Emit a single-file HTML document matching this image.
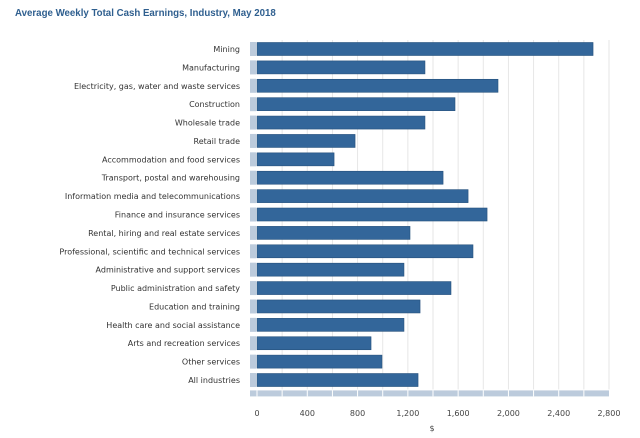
<!DOCTYPE html>
<html><head><meta charset="utf-8"><style>
body{margin:0;background:#fff;}
svg text{font-family:"DejaVu Sans",sans-serif;}
</style></head><body>
<svg id="chart" width="640" height="433" xmlns="http://www.w3.org/2000/svg">
<text x="15" y="16" font-size="9.7" font-weight="bold" fill="#2f5f8f" style="font-family:'Liberation Sans',sans-serif">Average Weekly Total Cash Earnings, Industry, May 2018</text>
<g id="grid"></g><g id="bars"></g><g id="labels"></g><g id="xaxis"></g>
<text x="432" y="431" font-size="8" fill="#444" text-anchor="middle">$</text>
</svg>
<script>
const categories=["Mining","Manufacturing","Electricity, gas, water and waste services","Construction","Wholesale trade","Retail trade","Accommodation and food services","Transport, postal and warehousing","Information media and telecommunications","Finance and insurance services","Rental, hiring and real estate services","Professional, scientific and technical services","Administrative and support services","Public administration and safety","Education and training","Health care and social assistance","Arts and recreation services","Other services","All industries"];
const values=[2673,1336,1917,1575,1336,780,613,1480,1679,1830,1217,1718,1169,1543,1297,1169,907,994,1281];
const ticks=[0,400,800,1200,1600,2000,2400,2800];
const NS="http://www.w3.org/2000/svg";
const x0=257,x1=609,xMax=2800,yTop=40,rowH=18.39;
const xs=v=>x0+(x1-x0)*v/xMax;
const ys=i=>yTop+i*rowH;
function mk(t,a,p){const e=document.createElementNS(NS,t);for(const k in a)e.setAttribute(k,a[k]);p.appendChild(e);return e;}
const grid=document.getElementById('grid'),bars=document.getElementById('bars'),labels=document.getElementById('labels'),xa=document.getElementById('xaxis');
const yBot=ys(categories.length);
for(let v=0;v<=xMax;v+=200){
 if(v>0){const g=mk('line',{x1:xs(v),x2:xs(v),y1:yTop,y2:yBot,stroke:'#e6e6e6','stroke-width':1},grid);
 
 }
}
const strip=mk('rect',{x:250,y:yBot+1,width:x1-250,height:6,fill:'#bccbdc'},xa);


for(let v=0;v<xMax;v+=200){const d=mk('line',{x1:xs(v),x2:xs(v),y1:yBot+1,y2:yBot+7,stroke:'#fff','stroke-width':1},xa);
 
 }
ticks.forEach(t=>{const tl=mk('text',{x:xs(t),y:416,'font-size':8,fill:'#444','text-anchor':'middle'},xa);tl.textContent=t.toLocaleString('en-US');
 
 });
categories.forEach((c,i)=>{
 const y=ys(i);
 const s=mk('rect',{x:250,y:y+2,width:6,height:14,fill:'#bccbdc'},bars);
 
 
 const b=mk('rect',{x:x0,y:y+2.5,width:xs(values[i])-x0,height:13,fill:'#33669a',stroke:'#25507c','stroke-width':0.6},bars);
 
 
 const l=mk('text',{x:240,y:y+12,'font-size':8,fill:'#333','text-anchor':'end'},labels);
 l.textContent=c;
 
 
});
</script>
</body></html>
